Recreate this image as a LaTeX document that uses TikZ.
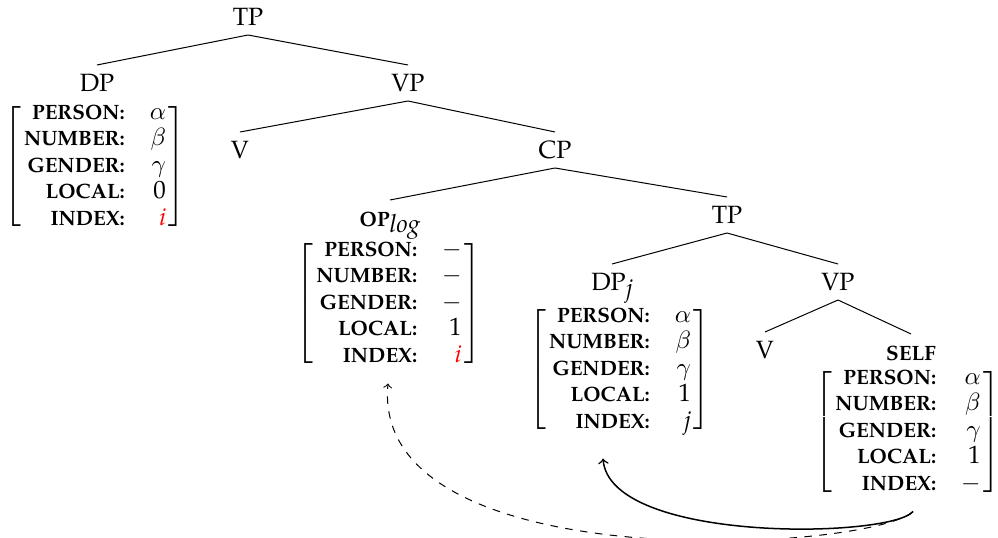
\documentclass[tikz,border=0pt]{standalone}
\usepackage{fontspec}
\setmainfont{TeX Gyre Pagella}
\usepackage{xcolor}
\tikzset{
  lbl/.style={inner xsep=1pt, inner ysep=3.5pt, text height=7pt, text depth=0pt},
  avm/.style={inner sep=0pt},
  branch/.style={line width=0.4pt},
  bind/.style={->, line width=0.6pt},
  logbind/.style={->, dashed, line width=0.4pt},
}
% bold caps set a size smaller, as small caps
\newcommand\bsc[1]{\mbox{\fontsize{8.3pt}{9pt}\selectfont\bfseries\MakeUppercase{#1}}}
% feature name
\newcommand\ft[1]{\bsc{#1:}}
% text-font values
\newcommand\tv[1]{\mbox{#1}}
\newcommand\iv[1]{\mbox{\itshape #1}}
% attribute--value matrix with the five agreement features
\newcommand\featmat[5]{$\renewcommand\arraystretch{0.88}\left[\begin{array}{@{\hspace{1.2pt}}r@{\hspace{10pt}}r@{\hspace{1.2pt}}}
  \ft{person} & #1\\
  \ft{number} & #2\\
  \ft{gender} & #3\\
  \ft{local}  & #4\\
  \ft{index}  & #5
\end{array}\right]$}
\begin{document}
\begin{tikzpicture}[x=0.4pt, y=-0.4pt]
\useasboundingbox (0,0) rectangle (998,538);

% tree labels
\node[lbl] (tp1) at (248,17) {TP};
\node[lbl] (dp1) at (97,83) {DP};
\node[lbl] (vp1) at (408,83) {VP};
\node[lbl] (v1)  at (240,150) {V};
\node[lbl] (cp)  at (555,150) {CP};
\node[lbl] (op)  at (390,218) {\bsc{op}\raisebox{-2.2pt}{\itshape log}};
\node[lbl] (tp2) at (727,215) {TP};
\node[lbl] (dpj) at (612,282) {DP\raisebox{-2.2pt}{\itshape j}};
\node[lbl] (vp2) at (838,282) {VP};
\node[lbl] (v2)  at (765,350) {V};
\node[lbl] (self) at (911,352) {\bsc{self}};

% feature matrices
\node[avm] (dpavm)   at (95,167)  {\featmat{\alpha}{\beta}{\gamma}{\tv{0}}{\textcolor{red}{\iv{i}}}};
\node[avm] (opavm)   at (389,304) {\featmat{-}{-}{-}{\tv{1}}{\textcolor{red}{\iv{i}}}};
\node[avm] (dpjavm)  at (620,370) {\featmat{\alpha}{\beta}{\gamma}{\tv{1}}{\iv{j}}};
\node[avm] (selfavm) at (908,432) {\featmat{\alpha}{\beta}{\gamma}{\tv{1}}{-}};

% branches
\draw[branch] (tp1.south) -- (dp1.north);
\draw[branch] (tp1.south) -- (vp1.north);
\draw[branch] (vp1.south) -- (v1.north);
\draw[branch] (vp1.south) -- (cp.north);
\draw[branch] (cp.south) -- (op.north);
\draw[branch] (cp.south) -- (tp2.north);
\draw[branch] (tp2.south) -- (dpj.north);
\draw[branch] (tp2.south) -- (vp2.north);
\draw[branch] (vp2.south) -- (v2.north);
\draw[branch] (vp2.south) -- (self.north);

% binding relations
\draw[bind] ([shift={(5,13)}]selfavm.south)
  .. controls +(-23,27) and +(7,85) .. ([shift={(-17,22)}]dpjavm.south);
\draw[logbind] ([shift={(5,13)}]selfavm.south)
  .. controls +(-43,40) and +(-18,198) .. ([shift={(-1,13)}]opavm.south);
\end{tikzpicture}
\end{document}
